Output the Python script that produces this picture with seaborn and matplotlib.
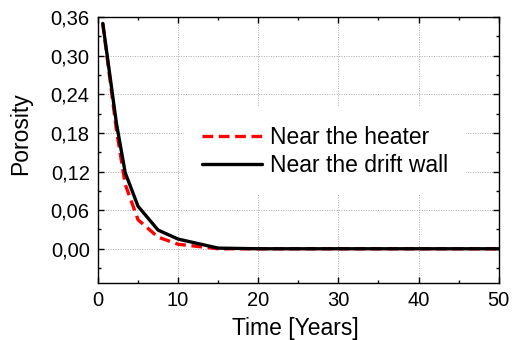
import numpy as np
import pandas as pd
import seaborn as sns
import matplotlib
matplotlib.use("Agg")
import matplotlib.pyplot as plt
from matplotlib.ticker import FuncFormatter, MultipleLocator

# time in years and porosity
time_years = [0.6, 2.3, 3.4, 5, 7.5, 10, 15, 20, 30, 40, 50]
heater = [0.35, 0.185, 0.10, 0.045, 0.018, 0.007, 0.0, 0.0, 0.0, 0.0, 0.0]
drift_wall = [0.35, 0.195, 0.118, 0.066, 0.029, 0.015, 0.001, 0.0, 0.0, 0.0, 0.0]
series_names = ["Near the heater", "Near the drift wall"]

df = pd.concat([
    pd.DataFrame({"time": time_years, "porosity": heater, "series": series_names[0]}),
    pd.DataFrame({"time": time_years, "porosity": drift_wall, "series": series_names[1]}),
])

sns.set_style("ticks")
plt.rcParams["font.family"] = ["Liberation Sans", "DejaVu Sans"]
plt.rcParams["text.color"] = "black"
plt.rcParams["axes.labelcolor"] = "black"
plt.rcParams["xtick.color"] = "black"
plt.rcParams["ytick.color"] = "black"

fig, ax = plt.subplots(figsize=(5.13, 3.40), dpi=100)
fig.subplots_adjust(left=0.191, right=0.972, top=0.95, bottom=0.168)

sns.lineplot(data=df, x="time", y="porosity", hue="series", style="series",
             palette={series_names[0]: "red", series_names[1]: "black"},
             dashes={series_names[0]: (3.2, 1.7), series_names[1]: ""},
             linewidth=2.4, ax=ax, legend=True)

ax.set_xlim(0, 50)
ax.set_ylim(-0.053, 0.36)
ax.set_xticks([0, 10, 20, 30, 40, 50])
ax.set_yticks([0.0, 0.06, 0.12, 0.18, 0.24, 0.30, 0.36])
ax.xaxis.set_minor_locator(MultipleLocator(5))
ax.yaxis.set_minor_locator(MultipleLocator(0.03))
ax.yaxis.set_major_formatter(FuncFormatter(lambda v, p: f"{v:.2f}".replace(".", ",")))

ax.tick_params(which="both", direction="in", top=True, right=True, labelsize=14.5,
               color="black", labelcolor="black")
ax.tick_params(which="major", length=4, width=1, pad=6)
ax.tick_params(which="minor", length=2.5, width=1)
for s in ax.spines.values():
    s.set_color("black")
    s.set_linewidth(1)

ax.grid(True, which="major", linestyle=(0, (1, 1.5)), color="#aaaaaa", linewidth=0.7)
ax.set_axisbelow(True)

ax.set_xlabel("Time [Years]", fontsize=16.5, color="black")
ax.set_ylabel("Porosity", fontsize=16.5, color="black")
ax.xaxis.set_label_coords(0.492, -0.13)
ax.yaxis.set_label_coords(-0.165, 0.56)

handles, labels = ax.get_legend_handles_labels()
leg = ax.legend(handles, labels, loc="upper left", bbox_to_anchor=(0.214, 0.66),
                borderaxespad=0, fontsize=16.5, handlelength=2.6, handletextpad=0.35,
                labelspacing=0.22, frameon=True, fancybox=False, framealpha=1,
                borderpad=0.8, labelcolor="black")
leg.get_frame().set_edgecolor("none")
leg.get_frame().set_facecolor("white")

fig.savefig("out.png", dpi=100)
